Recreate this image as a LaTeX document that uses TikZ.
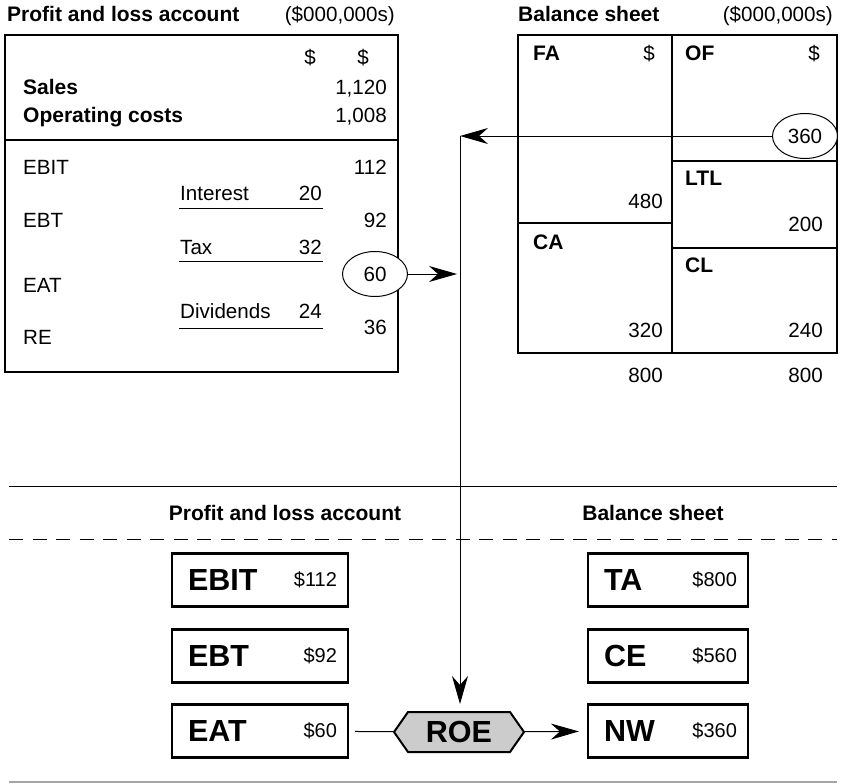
\documentclass[tikz,border=0pt]{standalone}
\usepackage{fontspec}
\setmainfont{Liberation Sans}
\usetikzlibrary{arrows.meta,shapes.geometric,shapes.symbols,positioning}

\begin{document}
\begin{tikzpicture}
        [x=1pt, y=-1pt, font=\fontsize{20.6}{24}\selectfont,
        txt/.style={inner sep=0pt, anchor=base west},
        num/.style={inner sep=0pt, anchor=base east},
        hd/.style={inner sep=0pt, anchor=base west, font=\fontsize{21}{24}\selectfont\bfseries},
        frame/.style={black, line width=1.4pt},
        rule/.style={black, line width=1pt},
        circled/.style={ellipse, draw, line width=1pt, fill=white, inner sep=0pt, minimum width=65pt, minimum height=45pt},
        arr/.style={black, line width=1pt, -{Stealth[length=28pt, width=16pt, inset=9pt]}},
        ratio/.style={draw, line width=2.2pt, minimum width=176pt, minimum height=53pt},
        bal/.style={ratio, minimum width=160pt},
        biglab/.style={inner sep=0pt, anchor=west, font=\fontsize{30.5}{34}\selectfont\bfseries},
        val/.style={inner sep=0pt, anchor=east, font=\fontsize{20}{24}\selectfont},
        roebox/.style={signal, signal to=west and east, signal pointer angle=110, draw, line width=2pt,
            fill=black!20, minimum width=130pt, minimum height=40pt, inner sep=0pt,
            font=\fontsize{30.5}{34}\selectfont\bfseries}]

        \useasboundingbox (0,0) rectangle (841,784);

        % --- profit and loss account ---
        \node[hd] (plt) at (7,22) {Profit and loss account};
        \node[num] (plu) at (395,22) {(\$000,000s)};
        \draw[frame] (5,35) rectangle (398,372);
        \draw[frame] (5,140) -- (398,140);

        \node[num] at (316,65) {\$};
        \node[num] at (369,65) {\$};
        \node[hd] (sales) at (23,95) {Sales};
        \node[num] at (387,95) {1,120};
        \node[hd] (opc) at (23,122) {Operating costs};
        \node[num] at (387,122) {1,008};

        \node[txt] (ebitl) at (23,174) {EBIT};
        \node[num] at (387,174) {112};
        \node[txt] (int) at (180,200) {Interest};
        \node[num] at (322,200) {20};
        \draw[rule] (179,208) -- (323,208);
        \node[txt] (ebtl) at (23,227) {EBT};
        \node[num] at (387,227) {92};
        \node[txt] (tax) at (180,254) {Tax};
        \node[num] at (322,254) {32};
        \draw[rule] (179,261) -- (323,261);
        \node[circled] (e60) at (375,274) {60};
        \node[txt] (eatl) at (23,292) {EAT};
        \node[txt] (div) at (180,318) {Dividends};
        \node[num] at (322,318) {24};
        \draw[rule] (179,328) -- (323,328);
        \node[num] at (387,334) {36};
        \node[txt] (re) at (23,344) {RE};

        % --- balance sheet ---
        \node[hd] (bst) at (518,22) {Balance sheet};
        \node[num] (bsu) at (833,22) {(\$000,000s)};
        \draw[frame] (518,35) rectangle (837,353);
        \draw[frame] (672,35) -- (672,353);
        \draw[frame] (518,223) -- (672,223);
        \draw[frame] (672,161) -- (837,161);
        \draw[frame] (672,248) -- (837,248);

        \node[hd] (fa) at (533,60) {FA};
        \node[num] at (655,60) {\$};
        \node[hd] (of) at (685,60) {OF};
        \node[num] at (820,60) {\$};
        \node[num] at (663,208) {480};
        \node[hd] (ltl) at (685,185) {LTL};
        \node[num] at (823,231) {200};
        \node[hd] (ca) at (533,249) {CA};
        \node[hd] (cl) at (685,272) {CL};
        \node[num] at (663,337) {320};
        \node[num] at (823,337) {240};
        \node[num] at (663,382) {800};
        \node[num] at (823,382) {800};
        \node[circled] (e360) at (805,136) {360};

        % --- lower panel ---
        \draw[rule] (9,486) -- (837,486);
        \node[hd, anchor=base] (plh) at (285,520) {Profit and loss account};
        \node[hd, anchor=base] (bsh) at (653,520) {Balance sheet};
        \draw[rule, dash pattern=on 14pt off 9.5pt] (9,539) -- (837,539);
        \draw[black!35, line width=1.5pt] (9,782) -- (837,782);

        \node[ratio] (ebit) at (260,580) {};
        \node[ratio] (ebt) at (260,656) {};
        \node[ratio] (eat) at (260,731) {};
        \node[bal] (ta) at (668,580) {};
        \node[bal] (ce) at (668,656) {};
        \node[bal] (nw) at (668,731) {};

        \node[biglab] at ([xshift=17pt]ebit.west) {EBIT};
        \node[val] at ([xshift=-12pt]ebit.east) {\$112};
        \node[biglab] at ([xshift=17pt]ebt.west) {EBT};
        \node[val] at ([xshift=-12pt]ebt.east) {\$92};
        \node[biglab] at ([xshift=17pt]eat.west) {EAT};
        \node[val] at ([xshift=-12pt]eat.east) {\$60};
        \node[biglab] at ([xshift=17pt]ta.west) {TA};
        \node[val] at ([xshift=-12pt]ta.east) {\$800};
        \node[biglab] at ([xshift=17pt]ce.west) {CE};
        \node[val] at ([xshift=-12pt]ce.east) {\$560};
        \node[biglab] at ([xshift=17pt]nw.west) {NW};
        \node[val] at ([xshift=-12pt]nw.east) {\$360};

        \node[roebox] (roe) at (459,732) {ROE};

        % --- connectors ---
        \coordinate (junc) at (460,136);
        \coordinate (in60) at (457,274);
        \draw[arr] (e360) -- (junc);
        \draw[arr] (e60) -- (in60);
        \draw[arr, shorten >=7pt] (junc) -- (junc |- roe.north);
        \draw[rule, shorten <=6pt] (eat) -- (roe);
        \draw[arr, shorten >=8pt] (roe) -- (nw);
    \end{tikzpicture}
\end{document}
